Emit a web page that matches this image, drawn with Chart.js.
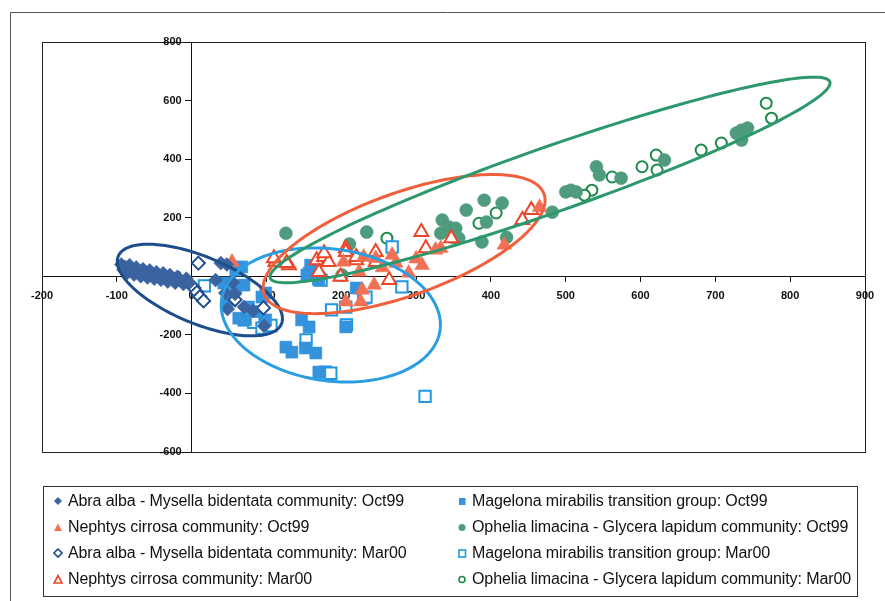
<!DOCTYPE html>
<html>
<head>
<meta charset="utf-8">
<script src="https://cdn.jsdelivr.net/npm/chart.js@4/dist/chart.umd.min.js"></script>
<style>
  body { margin: 0; background: #fff; }
  #wrap { position: relative; width: 885px; height: 601px; }
  #legend {
    position: absolute; left: 43px; top: 486px; width: 815px; height: 111px;
    border: 1px solid #333; box-sizing: border-box;
    font-family: "Liberation Sans", Arial, sans-serif; font-size: 16px; color: #111;
    letter-spacing: -0.1px;
  }
  .item { position: absolute; white-space: nowrap; line-height: 20px; }
  .item svg { position: absolute; left: -15px; top: 5px; }
</style>
</head>
<body>
<div id="wrap">
  <canvas id="myChart" width="885" height="601"></canvas>
  <div id="legend"></div>
</div>
<script>
'use strict';

// series, [x, y]
let abraOct99 = [[-94, 40], [-91, 22], [-89, 32], [-86, 12], [-83, 38], [-80, 24], [-77, 6], [-74, 30],
  [-71, 16], [-68, 0], [-65, 24], [-62, 10], [-59, -4], [-56, 20], [-53, 6], [-50, -8], [-47, 14],
  [-44, 0], [-41, -12], [-38, 10], [-35, -4], [-32, -18], [-29, 4], [-26, -10], [-22, -22], [-19, -2],
  [-15, -14], [-11, -26], [-7, -8], [-3, -22], [32, -13], [39, 45], [47, 40], [55, -20], [45, -57],
  [48, -112], [70, -105], [82, -118], [97, -170], [58, -60]];
let nephtysOct99 = [[54, 49], [203, 49], [230, 66], [246, 62], [273, 45], [268, 73], [308, 38],
  [326, 90], [333, 96], [224, 15], [244, -30], [228, -47], [206, -87], [226, -87], [290, 11],
  [418, 107], [465, 236], [300, 60], [255, 30]];
let abraMar00 = [[9, 45], [3, -40], [7, -55], [11, -70], [16, -84], [58, -80], [96, -108]];
let nephtysMar00 = [[112, 49], [130, 38], [167, 55], [177, 66], [183, 49], [170, 15], [206, 96],
  [220, 55], [246, 83], [246, 49], [307, 151], [313, 96], [264, -13], [347, 130], [442, 192],
  [454, 226], [199, -2], [110, 62], [127, 45], [177, 79], [206, 83], [220, 66]];
let magelonaOct99 = [[43, -23], [59, 21], [67, 32], [59, -37], [52, -71], [70, -30], [76, -105],
  [72, -149], [99, -149], [99, -57], [63, -143], [47, -98], [88, -120], [94, -71], [157, 11],
  [170, -13], [159, 38], [154, 4], [147, -149], [157, -173], [126, -242], [134, -259], [152, -245],
  [166, -262], [170, -327], [206, -173], [220, -40]];
let opheliaOct99 = [[126, 147], [234, 151], [211, 110], [201, 4], [335, 192], [344, 168], [353, 164],
  [333, 147], [349, 133], [357, 130], [367, 226], [391, 260], [415, 250], [394, 185], [388, 117],
  [421, 133], [482, 219], [500, 288], [507, 294], [514, 288], [541, 374], [545, 346], [574, 335],
  [632, 397], [728, 489], [735, 499], [743, 506], [735, 465]];
let magelonaMar00 = [[70, -149], [83, -157], [94, -177], [106, -168], [187, -115], [207, -166],
  [153, -217], [179, -327], [186, -331], [170, -6], [230, -74], [206, -105], [268, 100], [281, -36],
  [173, -13], [233, -71], [312, -410], [17, -33]];
let opheliaMar00 = [[261, 130], [407, 216], [384, 181], [535, 294], [525, 277], [562, 339],
  [602, 374], [621, 414], [622, 363], [681, 431], [708, 455], [768, 591], [775, 540]];

let seriesNames = [
  'Abra alba - Mysella bidentata community: Oct99',
  'Nephtys cirrosa community: Oct99',
  'Abra alba - Mysella bidentata community: Mar00',
  'Nephtys cirrosa community: Mar00',
  'Magelona mirabilis transition group: Oct99',
  'Ophelia limacina - Glycera lapidum community: Oct99',
  'Magelona mirabilis transition group: Mar00',
  'Ophelia limacina - Glycera lapidum community: Mar00'
];

// hand drawn rings: centre x, y, then two half axes (dx, dy) in data units
let abraRing = [11, -47, 109, -116, 17.5, 105];
let magelonaRing = [186, -132, 146, -52, -12, -223];
let nephtysRing = [284, 110, 187, 171, 23, -165];
let opheliaRing = [479, 329, 374, 335, 14.5, -105];

let xTicks = [-200, 900, 100];
let yTicks = [-600, 800, 200];

function toPoints(arr) {
  return arr.map(p => ({ x: p[0], y: p[1] }));
}

function series(name, arr, style, color, hollow, radius) {
  return {
    label: name,
    data: toPoints(arr),
    pointStyle: style,
    pointRadius: radius,
    pointHoverRadius: radius,
    backgroundColor: hollow ? '#ffffff' : color,
    borderColor: color,
    borderWidth: hollow ? 2 : 0.5
  };
}

let datasets = [
  series(seriesNames[0], abraOct99, 'rectRot', '#3a63a0', false, 7),
  series(seriesNames[1], nephtysOct99, 'triangle', '#f27154', false, 8.5),
  series(seriesNames[2], abraMar00, 'rectRot', '#1f4f8e', true, 6.5),
  series(seriesNames[3], nephtysMar00, 'triangle', '#ee4428', true, 8),
  series(seriesNames[4], magelonaOct99, 'rect', '#3592dc', false, 8.5),
  series(seriesNames[5], opheliaOct99, 'circle', '#4e9b7d', false, 6.5),
  series(seriesNames[6], magelonaMar00, 'rect', '#2196e2', true, 8),
  series(seriesNames[7], opheliaMar00, 'circle', '#1d8a4c', true, 5.5)
];

let tickFont = { family: '"Liberation Sans", Arial, sans-serif', size: 11, weight: 'bold' };

let ringPlugin = {
  id: 'rings',
  beforeDraw(chart) {
    let ctx = chart.ctx;
    let area = chart.chartArea;
    ctx.save();
    ctx.fillStyle = '#fff';
    ctx.fillRect(0, 0, chart.width, chart.height);
    ctx.strokeStyle = '#555';
    ctx.lineWidth = 1;
    ctx.beginPath();
    ctx.moveTo(10.5, 601);
    ctx.lineTo(10.5, 12.5);
    ctx.lineTo(885, 12.5);
    ctx.stroke();
    ctx.strokeStyle = '#222';
    ctx.strokeRect(area.left + 0.5, area.top + 0.5, area.width, area.height);
    ctx.restore();
  },
  beforeDatasetsDraw(chart) {
    // y labels sit left of the tick marks on the crossing axis
    let ctx = chart.ctx;
    let ys = chart.scales.y;
    let axisX = chart.scales.x.getPixelForValue(0);
    ctx.save();
    ctx.font = 'bold 11px "Liberation Sans", Arial, sans-serif';
    ctx.fillStyle = '#111';
    ctx.textAlign = 'right';
    ctx.textBaseline = 'middle';
    ys.ticks.forEach(t => {
      ctx.fillText(String(t.value), axisX - 10, ys.getPixelForValue(t.value));
    });
    ctx.restore();
  },
  afterDatasetsDraw(chart) {
    let ctx = chart.ctx;
    let xs = chart.scales.x;
    let ys = chart.scales.y;
    let rings = [
      [abraRing, '#1d4d8a'],
      [magelonaRing, '#2a9de3'],
      [nephtysRing, '#f0603c'],
      [opheliaRing, '#2c986b']
    ];
    ctx.save();
    ctx.lineWidth = 3;
    for (let i = 0; i < rings.length; i++) {
      let r = rings[i][0];
      ctx.strokeStyle = rings[i][1];
      ctx.beginPath();
      for (let k = 0; k <= 180; k++) {
        let t = k / 180 * Math.PI * 2;
        let px = xs.getPixelForValue(r[0] + r[2] * Math.cos(t) + r[4] * Math.sin(t));
        let py = ys.getPixelForValue(r[1] + r[3] * Math.cos(t) + r[5] * Math.sin(t));
        if (k === 0) {
          ctx.moveTo(px, py);
        } else {
          ctx.lineTo(px, py);
        }
      }
      ctx.closePath();
      ctx.stroke();
    }
    ctx.restore();
  }
};

let chart = new Chart(document.getElementById('myChart'), {
  type: 'scatter',
  data: { datasets: datasets },
  options: {
    responsive: false,
    maintainAspectRatio: false,
    animation: false,
    layout: { padding: { left: 42, top: 42, right: 20, bottom: 149 } },
    plugins: { legend: { display: false }, tooltip: { enabled: false } },
    scales: {
      x: {
        type: 'linear',
        position: { y: 0 },
        min: xTicks[0],
        max: xTicks[1],
        ticks: { stepSize: xTicks[2], font: tickFont, color: '#111', padding: 8, maxRotation: 0 },
        grid: { drawOnChartArea: false, drawTicks: true, tickLength: 5, color: '#111' },
        border: { display: true, color: '#111', width: 1 }
      },
      y: {
        type: 'linear',
        position: { x: 0 },
        min: yTicks[0],
        max: yTicks[1],
        ticks: { stepSize: yTicks[2], display: false },
        grid: { drawOnChartArea: false, drawTicks: true, tickLength: 6, color: '#111' },
        border: { display: true, color: '#111', width: 1 }
      }
    }
  },
  plugins: [ringPlugin]
});

// legend built from the datasets, two columns
function markerSvg(ds) {
  let fill = ds.backgroundColor;
  let stroke = ds.borderColor;
  let sw = ds.borderWidth > 1 ? 1.6 : 0;
  let shape = '';
  if (ds.pointStyle === 'rectRot') {
    shape = `<polygon points="5,1 9,5 5,9 1,5" fill="${fill}" stroke="${stroke}" stroke-width="${sw}"/>`;
  } else if (ds.pointStyle === 'triangle') {
    shape = `<polygon points="5,1.5 9,9 1,9" fill="${fill}" stroke="${stroke}" stroke-width="${sw}"/>`;
  } else if (ds.pointStyle === 'rect') {
    shape = `<rect x="2" y="2" width="6.5" height="7" fill="${fill}" stroke="${stroke}" stroke-width="${sw}"/>`;
  } else {
    shape = `<circle cx="5" cy="5.5" r="${sw ? 3 : 3.5}" fill="${fill}" stroke="${stroke}" stroke-width="${sw}"/>`;
  }
  return `<svg width="10" height="11" viewBox="0 0 10 11">${shape}</svg>`;
}

let legend = document.getElementById('legend');
let rowTops = [4, 30, 56, 82];
let colLefts = [24, 428];
for (let i = 0; i < chart.data.datasets.length; i++) {
  let ds = chart.data.datasets[i];
  let item = document.createElement('div');
  item.className = 'item';
  item.style.left = colLefts[Math.floor(i / 4)] + 'px';
  item.style.top = rowTops[i % 4] + 'px';
  item.innerHTML = markerSvg(ds) + ds.label;
  legend.appendChild(item);
}
</script>
</body>
</html>
